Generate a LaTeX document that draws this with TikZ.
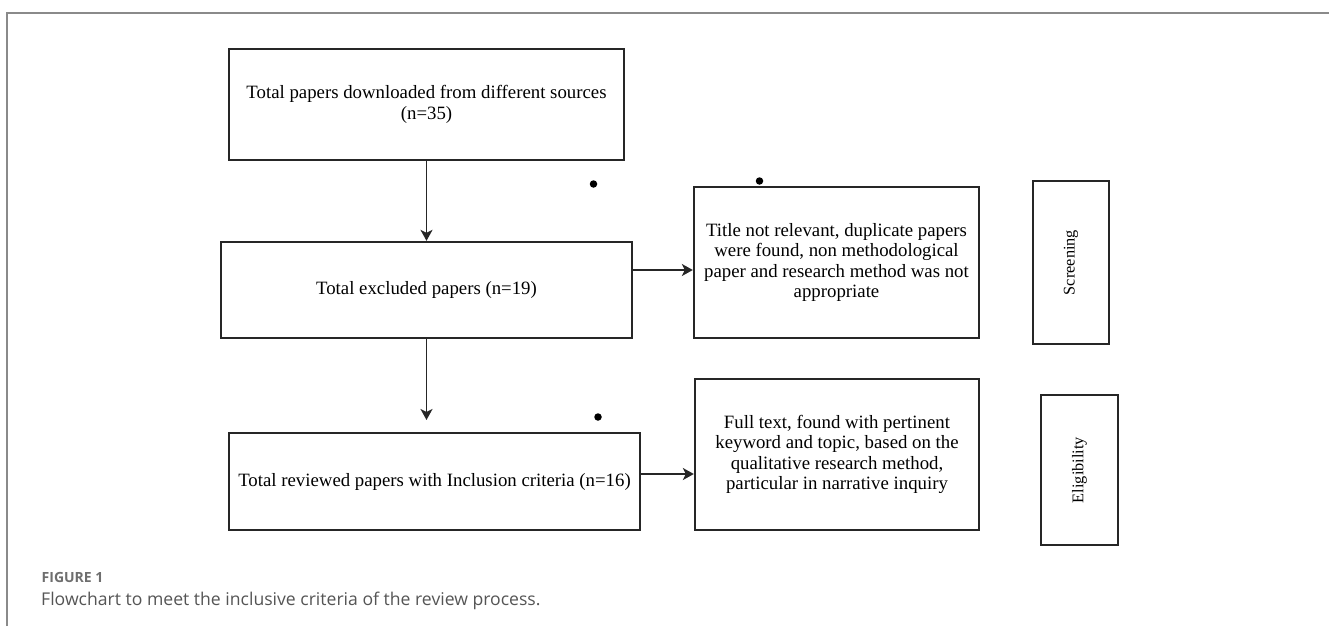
\documentclass[tikz,border=0pt]{standalone}
\usepackage{fontspec}
\setmainfont{Liberation Serif}
\newfontfamily\capfont{Open Sans}
\usetikzlibrary{arrows.meta}
\definecolor{lineclr}{HTML}{262626}
\definecolor{frameclr}{HTML}{8A8A8A}
\definecolor{capclr}{HTML}{555555}
\definecolor{figclr}{HTML}{6E6E6E}
\tikzset{
  flowbox/.style={draw=lineclr, line width=2.3pt, inner sep=0pt, align=center,
    font=\fontsize{18.8}{20.4}\selectfont, text=black},
  sidebox/.style={draw=lineclr, line width=2.3pt, inner sep=0pt},
  sidelabel/.style={rotate=90, font=\fontsize{16.3}{18}\selectfont, text=black},
  arr/.style={draw=lineclr, line width=1.9pt, -{Stealth[length=11pt,width=12pt,inset=3pt]}},
  blob/.style={circle, fill=black, inner sep=0pt, minimum size=7.5pt},
  captext/.style={anchor=west, inner sep=0pt, text=capclr, font=\capfont\fontsize{17.6}{20}\selectfont},
  figtext/.style={anchor=west, inner sep=0pt, text=figclr, font=\capfont\bfseries\fontsize{14}{17}\selectfont}
}
\begin{document}
\begin{tikzpicture}[x=1pt,y=-1pt]
\useasboundingbox (0,0) rectangle (1329,626);
\fill[white] (0,0) rectangle (1329,626);
% frame
\draw[frameclr, line width=1.8pt] (7,626) -- (7,13) -- (1329,13);
% boxes
\node[flowbox, minimum width=395pt, minimum height=111pt] (b1) at (426.5,104.5)
  {Total papers downloaded from different sources\\(n=35)};
\node[flowbox, minimum width=411pt, minimum height=96pt] (b2) at (426.5,290)
  {Total excluded papers (n=19)};
\node[flowbox, minimum width=285pt, minimum height=151pt] (b3) at (836.5,262.5)
  {Title not relevant, duplicate papers\\were found, non methodological\\paper and research method was not\\appropriate};
\node[sidebox, minimum width=76pt, minimum height=163pt] (s1) at (1071,262.5) {};
\node[sidelabel] (s1t) at (1071,262.5) {Screening};
\node[flowbox, minimum width=411pt, minimum height=97pt] (b4) at (434.5,481.5)
  {Total reviewed papers with Inclusion criteria (n=16)};
\node[flowbox, minimum width=284pt, minimum height=151pt] (b5) at (837,454.5)
  {Full text, found with pertinent\\keyword and topic, based on the\\qualitative research method,\\particular in narrative inquiry};
\node[sidebox, minimum width=77pt, minimum height=150pt] (s2) at (1079.5,470) {};
\node[sidelabel] (s2t) at (1079.5,470) {Eligibility};
% dots
\node[blob] (d1) at (593.5,184) {};
\node[blob] (d2) at (759.5,181) {};
\node[blob] (d3) at (598,417) {};
% connectors
\draw[arr] (b1.south) -- (b2.north);
\coordinate (a2) at ([yshift=20pt]b2.east);
\draw[arr] (a2) -- (a2 -| b3.west);
\coordinate (a3) at (426.5,420);
\draw[arr] (b2.south) -- (a3);
\coordinate (a4) at ([yshift=7.5pt]b4.east);
\draw[arr] (a4) -- (a4 -| b5.west);
% caption
\node[figtext] (fig) at (41.5,577) {FIGURE 1};
\node[captext] (cap) at (41,601) {Flowchart to meet the inclusive criteria of the review process.};
\end{tikzpicture}
\end{document}
